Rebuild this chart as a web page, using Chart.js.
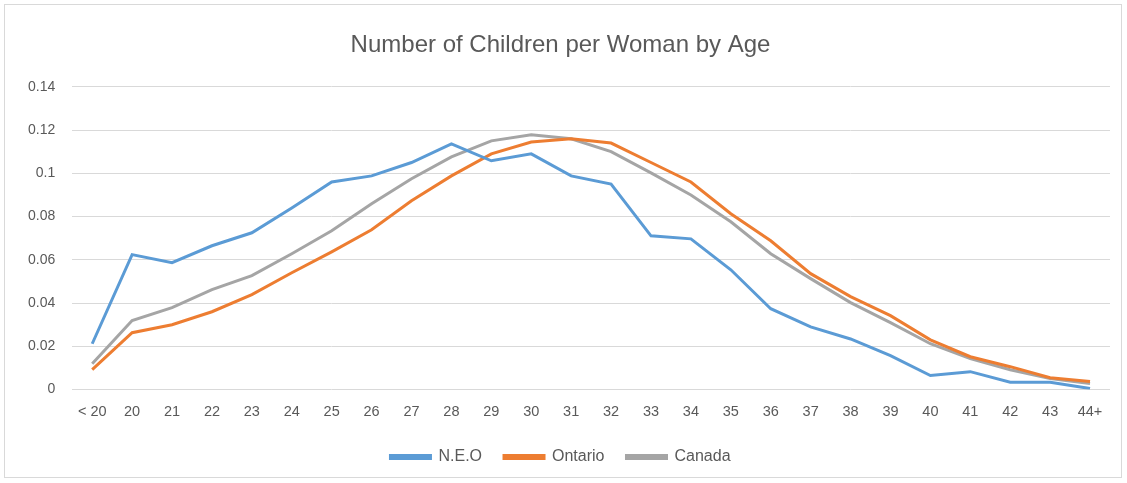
<!DOCTYPE html>
<html>
<head>
<meta charset="utf-8">
<script src="https://cdn.jsdelivr.net/npm/chart.js@4"></script>
<style>
  html, body { margin: 0; padding: 0; background: #fff; }
  #wrap { position: absolute; left: 4px; top: 4px; width: 1118px; height: 474px; border: 1px solid #d9d9d9; box-sizing: border-box; }
</style>
</head>
<body>
<div id="wrap"><canvas id="myChart"></canvas></div>
<script>
const ages = ['< 20','20','21','22','23','24','25','26','27','28','29','30','31','32','33','34','35','36','37','38','39','40','41','42','43','44+'];
const neo = [0.0212,0.0624,0.0587,0.0665,0.0725,0.084,0.096,0.0988,0.105,0.1136,0.1058,0.109,0.0988,0.095,0.0711,0.0697,0.0554,0.0374,0.029,0.0234,0.0157,0.0065,0.0083,0.0034,0.0034,0.0005];
const ontario = [0.0092,0.0263,0.030,0.036,0.0439,0.054,0.0637,0.0739,0.0873,0.0988,0.109,0.1145,0.116,0.114,0.105,0.096,0.0813,0.0688,0.0536,0.043,0.0342,0.023,0.0152,0.0106,0.0055,0.0037];
const canada = [0.012,0.0319,0.0379,0.0462,0.0527,0.0628,0.0734,0.0859,0.0975,0.1076,0.115,0.1178,0.116,0.110,0.1002,0.090,0.0776,0.0628,0.0513,0.0402,0.031,0.0212,0.0143,0.0092,0.0051,0.0028];

const textColor = '#595959';
const fontFam = "'Liberation Sans', Arial, sans-serif";

const ctx = document.getElementById('myChart').getContext('2d');
const chart = new Chart(ctx, {
  type: 'line',
  data: {
    labels: ages,
    datasets: [
      { label: 'N.E.O', data: neo, borderColor: '#5b9bd5', backgroundColor: '#5b9bd5' },
      { label: 'Ontario', data: ontario, borderColor: '#ed7d31', backgroundColor: '#ed7d31' },
      { label: 'Canada', data: canada, borderColor: '#a5a5a5', backgroundColor: '#a5a5a5' }
    ]
  },
  options: {
    responsive: true,
    maintainAspectRatio: false,
    animation: false,
    elements: {
      line: { borderWidth: 3, tension: 0 },
      point: { radius: 0 }
    },
    layout: { padding: { left: 6, right: 11, top: 20, bottom: 2 } },
    plugins: {
      title: {
        display: true,
        text: 'Number of Children per Woman by Age',
        color: textColor,
        font: { family: fontFam, size: 24, weight: 'normal' },
        padding: { top: 6, bottom: 27 }
      },
      legend: {
        position: 'bottom',
        labels: {
          color: textColor,
          font: { family: fontFam, size: 16 },
          boxWidth: 40,
          boxHeight: 3,
          padding: 22
        }
      },
      tooltip: { enabled: false }
    },
    scales: {
      x: {
        offset: true,
        grid: { display: false },
        border: { display: false },
        ticks: { color: textColor, font: { family: fontFam, size: 14.5 }, maxRotation: 0, autoSkip: false, padding: 6 }
      },
      y: {
        min: 0,
        max: 0.14,
        grid: { color: '#d9d9d9', lineWidth: 1, drawTicks: false },
        border: { display: false },
        ticks: {
          stepSize: 0.02,
          color: textColor,
          font: { family: fontFam, size: 14 },
          padding: 17,
          callback: (v) => String(Math.round(v * 100) / 100)
        }
      }
    }
  }
});
</script>
</body>
</html>
